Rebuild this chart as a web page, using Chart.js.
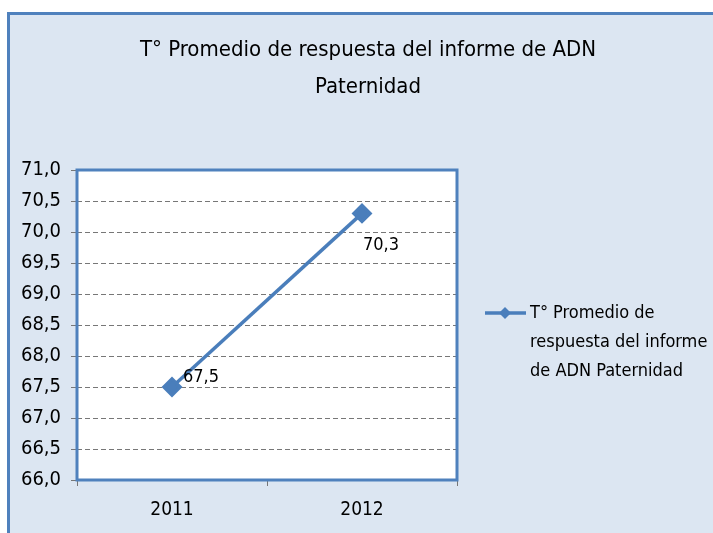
<!DOCTYPE html>
<html>
<head>
<meta charset="utf-8">
<script src="https://cdn.jsdelivr.net/npm/chart.js@4.4.1/dist/chart.umd.min.js"></script>
<style>
  html, body { margin: 0; padding: 0; background: #fff; }
  #wrap { width: 713px; height: 533px; }
</style>
</head>
<body>
<div id="wrap"><canvas id="c" width="713" height="533"></canvas></div>
<script>
// data
const years = ['2011', '2012'];
const tiempos = [67.5, 70.3];
const seriesName = 'T° Promedio de respuesta del informe de ADN Paternidad';
const legendLines = ['T° Promedio de', 'respuesta del informe', 'de ADN Paternidad'];
const titleLines = ['T° Promedio de respuesta del informe de ADN', 'Paternidad'];

const FONT = '"Liberation Sans Narrow", "DejaVu Sans Condensed", sans-serif';
const BLUE = '#4a7ebb';
const fmt = v => v.toFixed(1).replace('.', ',');

// fondo, marco y área de trazado
const framePlugin = {
  id: 'framePlugin',
  beforeDraw(chart) {
    const {ctx, chartArea: a} = chart;
    ctx.save();
    ctx.fillStyle = '#fff';
    ctx.fillRect(0, 0, chart.width, chart.height);
    ctx.fillStyle = '#dce6f2';
    ctx.fillRect(8, 13, chart.width, chart.height);
    ctx.strokeStyle = '#4f81bd';
    ctx.lineWidth = 3;
    ctx.strokeRect(8.5, 13.5, chart.width + 10, chart.height + 10);
    ctx.fillStyle = '#fff';
    ctx.fillRect(a.left, a.top, a.right - a.left, a.bottom - a.top);
    ctx.restore();
  },
  beforeDatasetsDraw(chart) {
    const {ctx, chartArea: a} = chart;
    ctx.save();
    ctx.strokeStyle = '#4f81bd';
    ctx.lineWidth = 3;
    ctx.strokeRect(a.left, a.top, a.right - a.left, a.bottom - a.top);
    ctx.restore();
  },
  afterDraw(chart) {
    const {ctx} = chart;
    ctx.save();
    // título
    ctx.fillStyle = '#000';
    ctx.font = '22px ' + FONT;
    ctx.textAlign = 'center';
    ctx.textBaseline = 'middle';
    titleLines.forEach((t, i) => ctx.fillText(t, 368, 50 + i * 37));
    // etiquetas de datos
    const meta = chart.getDatasetMeta(0);
    ctx.font = '18px ' + FONT;
    ctx.textAlign = 'left';
    meta.data.forEach((p, i) => {
      const v = tiempos[i];
      const dy = i === 0 ? -10 : 32;
      ctx.fillText(fmt(v), p.x + (i === 0 ? 11 : 1), p.y + dy);
    });
    // leyenda
    ctx.strokeStyle = BLUE;
    ctx.lineWidth = 3.5;
    ctx.beginPath();
    ctx.moveTo(485, 313);
    ctx.lineTo(526, 313);
    ctx.stroke();
    ctx.fillStyle = BLUE;
    ctx.beginPath();
    ctx.moveTo(505, 307); ctx.lineTo(511, 313); ctx.lineTo(505, 319); ctx.lineTo(499, 313);
    ctx.closePath();
    ctx.fill();
    ctx.fillStyle = '#000';
    ctx.font = '18px ' + FONT;
    legendLines.forEach((t, i) => ctx.fillText(t, 530, 313 + i * 29));
    ctx.restore();
  }
};

new Chart(document.getElementById('c'), {
  type: 'line',
  data: {
    labels: years,
    datasets: [{
      label: seriesName,
      data: tiempos,
      borderColor: BLUE,
      backgroundColor: BLUE,
      borderWidth: 3.5,
      pointStyle: 'rectRot',
      pointRadius: 8,
      pointHoverRadius: 8,
      tension: 0
    }]
  },
  options: {
    responsive: false,
    animation: false,
    layout: { padding: { top: 170, right: 256, bottom: 8, left: 7 } },
    plugins: { legend: { display: false }, title: { display: false }, tooltip: { enabled: false } },
    scales: {
      x: {
        offset: true,
        afterFit(s) { s.height = 45; },
        grid: { offset: true, drawOnChartArea: false, tickLength: 6, color: '#777' },
        border: { display: false },
        ticks: { color: '#000', font: { family: FONT, size: 19 }, padding: 13 }
      },
      y: {
        min: 66, max: 71,
        afterFit(s) { s.width = 70; },
        grid: { color: '#777', tickLength: 6, drawTicks: true },
        border: { display: false, dash: [5, 3] },
        ticks: {
          stepSize: 0.5,
          color: '#000',
          font: { family: FONT, size: 20 },
          padding: 10,
          callback: v => fmt(v)
        }
      }
    }
  },
  plugins: [framePlugin]
});
</script>
</body>
</html>
